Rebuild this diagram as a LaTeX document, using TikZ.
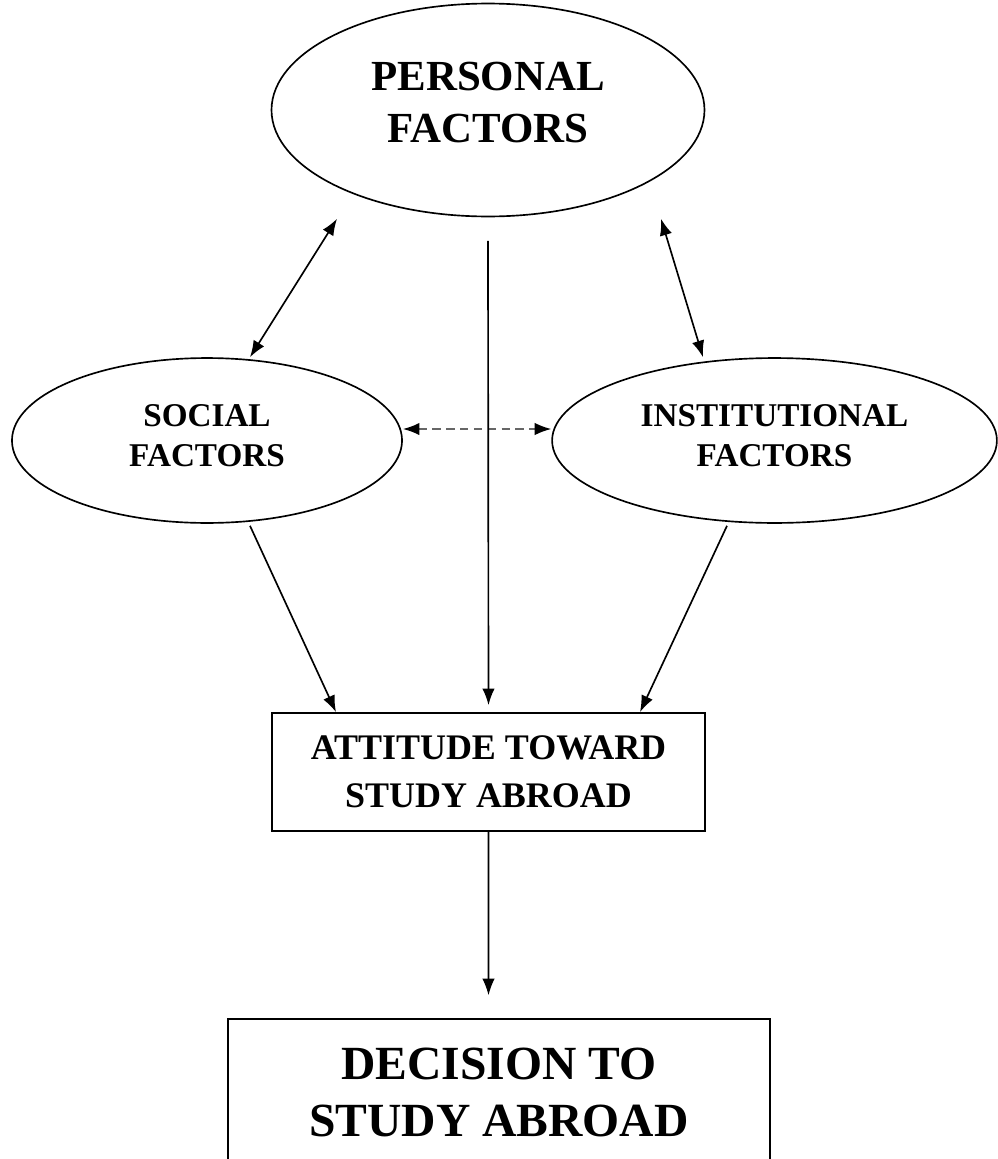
\documentclass[tikz,border=0pt]{standalone}
\usepackage{fontspec}
\setmainfont{Liberation Serif}
\usetikzlibrary{shapes.geometric,arrows.meta,calc}

\begin{document}
\begin{tikzpicture}[x=0.0254cm,y=-0.0254cm,
	factor/.style={shape=ellipse,draw,line width=1.2pt,inner sep=0pt,align=center},
	stage/.style={shape=rectangle,draw,line width=1.2pt,inner sep=0pt,align=center},
	link/.style={line width=1.2pt,-{Latex[length=12pt,width=9pt]}},
	both/.style={line width=1.2pt,{Latex[length=12pt,width=9pt,color=black]}-{Latex[length=12pt,width=9pt,color=black]}}]
	\useasboundingbox (0,0) rectangle (998,1159);

	\node[factor,minimum width=11cm,minimum height=5.41cm,text depth=0.41cm,font=\bfseries\fontsize{31}{37.4}\selectfont] (pers) at (488,110) {PERSONAL\\ FACTORS};
	\node[factor,minimum width=9.91cm,minimum height=4.19cm,text depth=0.25cm,font=\bfseries\fontsize{24}{29.5}\selectfont] (soc) at (207,440.5) {SOCIAL\\ FACTORS};
	\node[factor,minimum width=11.3cm,minimum height=4.19cm,text depth=0.25cm,font=\bfseries\fontsize{24}{29.5}\selectfont] (inst) at (774.5,440.5) {INSTITUTIONAL\\ FACTORS};
	\node[stage,minimum width=11cm,minimum height=3cm,font=\bfseries\fontsize{26}{34.6}\selectfont] (att) at (488.5,772) {ATTITUDE TOWARD\\ STUDY ABROAD};
	\node[stage,minimum width=13.77cm,minimum height=3.73cm,font=\bfseries\fontsize{34.4}{41}\selectfont] (dec) at (499,1092.5) {DECISION TO\\ STUDY ABROAD};

	\draw[both] ($(soc.north)+(43,0)$) -- ($(pers.south)+(-151,1.5)$);
	\draw[both] ($(inst.north)+(-71.5,0)$) -- ($(pers.south)+(173,1.5)$);
	\draw[both,black!60,dash pattern=on 6pt off 4pt] ($(soc.east)+(0,-11.5)$) -- ($(inst.west)+(0,-11.5)$);
	\draw[link] ($(pers.south)+(0,23.5)$) -- ($(att.north)+(0,-7)$);
	\draw[link] ($(soc.south)+(43,2)$) -- ($(att.north)+(-152.5,0)$);
	\draw[link] ($(inst.south)+(-47.5,2)$) -- ($(att.north)+(151.5,0)$);
	\draw[link] (att.south) -- ($(dec.north)+(-10.5,-23)$);
\end{tikzpicture}
\end{document}
